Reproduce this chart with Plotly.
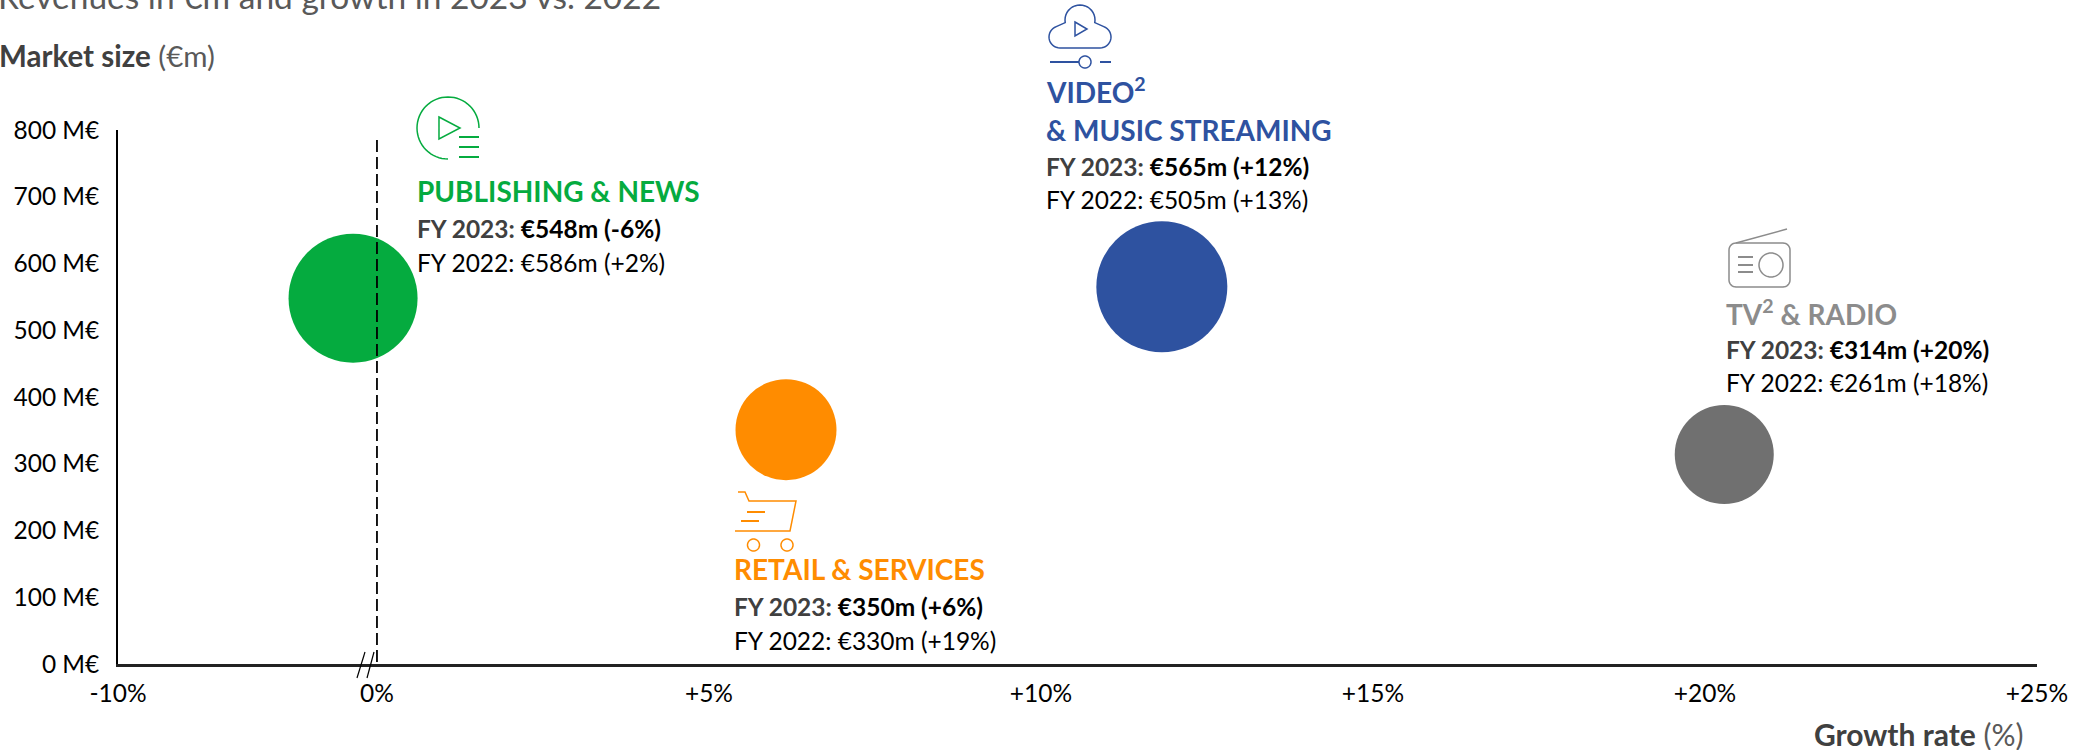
import math
import plotly.graph_objects as go

# ---- data ----
segments = ["PUBLISHING & NEWS", "RETAIL & SERVICES", "VIDEO & MUSIC STREAMING", "TV & RADIO"]
x_position = [-0.36, 6.16, 11.82, 20.29]   # position on the broken growth axis
market_size = [548, 351, 565, 314]
bubble_px = [129, 101, 131, 99]
colors = ["#05AB3F", "#FF8C00", "#2E52A0", "#707070"]
x_ticks = [-3.9, 0, 5, 10, 15, 20, 25]
x_labels = ["-10%", "0%", "+5%", "+10%", "+15%", "+20%", "+25%"]
y_ticks = [0, 100, 200, 300, 400, 500, 600, 700, 800]
y_labels = [f"{v} M€" for v in y_ticks]

W, H = 2089, 750
L, R, T, B = 118, 2037, 130, 664
FONT = "Lato"
GREY = "#404040"


def px(x):
    return (x - L) / (R - L)


def py(y):
    return (B - y) / (B - T)


def path(points, close=False):
    s = "M" + " L".join(f"{px(x):.5f},{py(y):.5f}" for x, y in points)
    return s + (" Z" if close else "")


def arc(cx, cy, r, a0=0, a1=360, n=48):
    return [(cx + r * math.cos(math.radians(a0 + (a1 - a0) * i / n)),
             cy + r * math.sin(math.radians(a0 + (a1 - a0) * i / n))) for i in range(n + 1)]


fig = go.Figure(go.Scatter(
    x=x_position, y=market_size, text=segments, mode="markers", cliponaxis=False,
    marker=dict(size=bubble_px, sizemode="diameter", color=colors, line=dict(width=0), opacity=1),
    hoverinfo="text", showlegend=False,
))

shapes = []


def icon(points, color, width=1.5, close=False):
    shapes.append(dict(type="path", xref="paper", yref="paper", path=path(points, close),
                       line=dict(color=color, width=width), layer="above"))


# dashed zero line and axis-break strokes
shapes.append(dict(type="line", xref="x", yref="y", x0=0, x1=0, y0=785, y1=0,
                   line=dict(color="#000000", width=1.8, dash="12px,5px"), layer="above"))
icon([(357, 678), (365, 652)], "#000000", 1.2)
icon([(367, 678), (374, 652)], "#000000", 1.2)

# publishing icon
g = colors[0]
icon(arc(448, 128, 31, 90, 360), g)
icon([(439, 117), (460, 128), (439, 139)], g, 1.5, True)
for yy in (137, 147, 157):
    icon([(459, yy), (479, yy)], g, 2)

# cloud icon
b = colors[2]
cloud = arc(1060, 37, 11, 90, 250, 16) + arc(1080, 20, 15, 170, 370, 20) + arc(1100, 37, 11, -70, 90, 16)
icon(cloud, b, 1.5, True)
icon([(1075, 22), (1087, 29), (1075, 36)], b, 1.5, True)
icon([(1050, 62), (1079, 62)], b, 2)
icon(arc(1085, 62, 6), b)
icon([(1100, 62), (1111, 62)], b, 2)

# radio icon
t = "#8C8C8C"
body = arc(1736, 250, 7, 180, 270, 8) + arc(1783, 250, 7, 270, 360, 8)
body += arc(1783, 280, 7, 0, 90, 8) + arc(1736, 280, 7, 90, 180, 8)
icon(body, t, 1.5, True)
icon([(1736, 243), (1787, 229)], t)
icon(arc(1771, 265, 12), t)
for yy in (257, 265, 272):
    icon([(1738, yy), (1753, yy)], t, 2)

# cart icon
o = colors[1]
icon([(738, 492), (745, 492), (749, 501), (796, 501), (790, 531), (735, 531)], o)
icon([(747, 512), (765, 512)], o, 2)
icon([(741, 521), (759, 521)], o, 2)
icon(arc(753.5, 545, 6), o)
icon(arc(787, 545, 6), o)

# ---- text ----
annotations = []


def label(x, y, text, size, color="#000000", anchor="left"):
    annotations.append(dict(xref="paper", yref="paper", x=px(x), y=py(y), text=text, showarrow=False,
                            xanchor=anchor, yanchor="middle", xshift=0, align=anchor,
                            font=dict(family=FONT, size=size, color=color)))


def block(x, y, head, line23, line22, color):
    for i, h in enumerate(head):
        label(x - 3, y[i] - 1, f"<b>{h}</b>", 28, color)
    label(x - 3, y[-2] - 1, f"<b><span style='color:{GREY}'>FY 2023:</span> {line23}</b>", 24.5)
    label(x - 3, y[-1] - 1, line22, 24.5)


block(418, [192, 229, 263], ["PUBLISHING &amp; NEWS"], "€548m (-6%)", "FY 2022: €586m (+2%)", colors[0])
block(1047, [92, 131, 168, 200], ["VIDEO<sup>2</sup>", "&amp; MUSIC STREAMING"],
      "€565m (+12%)", "FY 2022: €505m (+13%)", colors[2])
block(1727, [313, 350, 383], ["TV<sup>2</sup> &amp; RADIO"], "€314m (+20%)", "FY 2022: €261m (+18%)", "#8C8C8C")
block(735, [570, 607, 641], ["RETAIL &amp; SERVICES"], "€350m (+6%)", "FY 2022: €330m (+19%)", colors[1])

label(-3, 55, "<b>Market size</b> <span style='color:#595959'>(€m)</span>", 29.5, GREY)
label(1812, 734, "<b>Growth rate</b> <span style='color:#595959'>(%)</span>", 30, GREY)
label(-4, -4, "Revenues in €m and growth in 2023 vs. 2022", 33.5, "#595959")

fig.update_layout(
    width=W, height=H, autosize=False,
    margin=dict(l=L, r=W - R, t=T, b=H - B, pad=0),
    paper_bgcolor="#FFFFFF", plot_bgcolor="#FFFFFF",
    font=dict(family=FONT, size=20, color="#000000"),
    shapes=shapes, annotations=annotations, showlegend=False,
    xaxis=dict(range=[x_ticks[0], x_ticks[-1]], tickmode="array", tickvals=x_ticks, ticktext=x_labels,
               showgrid=False, zeroline=False, showline=True, linecolor="#222222", linewidth=2.5,
               ticks="", ticklabelstandoff=6, tickfont=dict(family=FONT, size=24.5, color="#000000")),
    yaxis=dict(range=[0, 800], tickmode="array", tickvals=y_ticks, ticktext=y_labels,
               showgrid=False, zeroline=False, showline=True, linecolor="#000000", linewidth=1.5,
               ticks="", ticklabelstandoff=12, tickfont=dict(family=FONT, size=24.5, color="#000000")),
)

fig.write_html("out.html", config=dict(displayModeBar=False),
               post_script="document.body.style.margin='0';document.documentElement.style.overflow='hidden';")
